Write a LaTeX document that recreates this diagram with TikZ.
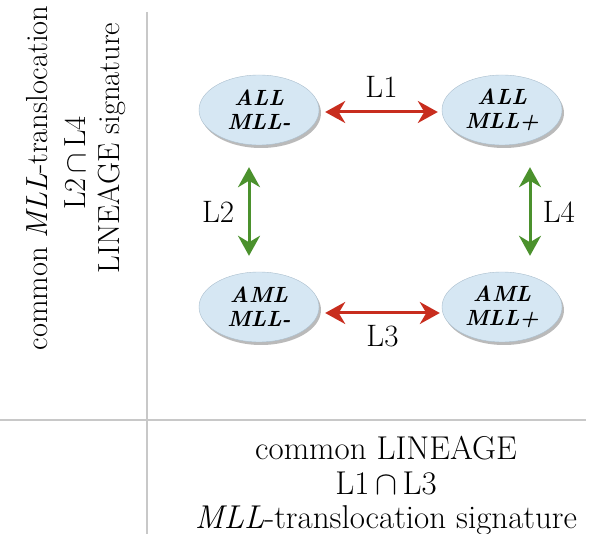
\RequirePackage{fix-cm}
\documentclass[tikz,border=0pt]{standalone}
\usepackage{amsmath, amssymb}
\usepackage{fontspec}
\usepackage{xcolor}
\usetikzlibrary{arrows.meta, positioning, shadows, shapes.geometric}
\definecolor{cellblue}{RGB}{214, 231, 243}
\definecolor{cellrim}{RGB}{170, 190, 205}
\definecolor{linkred}{RGB}{200, 45, 30}
\definecolor{linkgreen}{RGB}{75, 145, 45}
\definecolor{rulegray}{RGB}{200, 200, 200}

\tikzset{
  cell/.style={ellipse, minimum width=120pt, minimum height=70pt, inner sep=0pt,
    fill=cellblue, draw=cellrim, line width=0.4pt,
    drop shadow={shadow xshift=2pt, shadow yshift=-3pt, fill=black!45, opacity=0.6},
    font=\fontsize{22}{24}\selectfont\bfseries\itshape, align=center},
  redlink/.style={{Stealth[length=20pt,width=22pt]}-{Stealth[length=20pt,width=22pt]},
    line width=3pt, linkred},
  greenlink/.style={{Stealth[length=20pt,width=22pt]}-{Stealth[length=20pt,width=22pt]},
    line width=3pt, linkgreen},
  lab/.style={font=\fontsize{31}{32}\selectfont},
  sidetext/.style={font=\fontsize{30.5}{32}\selectfont, rotate=90},
  foottext/.style={font=\fontsize{33}{34.5}\selectfont, align=center}
}

\begin{document}
\begin{tikzpicture}[x=1pt, y=-1pt]
  \useasboundingbox (0,0) rectangle (597,534);

  % frame lines
  \draw[rulegray, line width=1.2pt] (147,12) -- (147,534);
  \draw[rulegray, line width=1.2pt] (0,420) -- (586,420);

  % the four groups
  \node[cell] (allneg) at (259,110) {ALL\\MLL-};
  \node[cell] (allpos) at (502,110) {ALL\\MLL+};
  \node[cell] (amlneg) at (259,307) {AML\\MLL-};
  \node[cell] (amlpos) at (502,307) {AML\\MLL+};

  % links between groups
  \draw[redlink] ([xshift=6pt,yshift=-2pt]allneg.east) -- ([xshift=-4pt,yshift=-2pt]allpos.west)
    node[midway, above=10pt, lab, black] (lone) {L1};
  \draw[redlink] ([xshift=6pt,yshift=-6pt]amlneg.east) -- ([xshift=-2pt,yshift=-6pt]amlpos.west)
    node[midway, below=7pt, lab, black] (lthree) {L3};
  \draw[greenlink] ([xshift=-10pt,yshift=-22pt]allneg.south) -- ([xshift=-10pt,yshift=16pt]amlneg.north)
    node[midway, left=10pt, lab, black] (ltwo) {L2};
  \draw[greenlink] ([xshift=28pt,yshift=-22pt]allpos.south) -- ([xshift=28pt,yshift=16pt]amlpos.north)
    node[midway, right=8pt, lab, black] (lfour) {L4};

  % signatures
  \node[sidetext] (rowsiga) at (37,178) {common \textit{MLL}-translocation};
  \node[sidetext] (rowsigb) at (75,163) {L2\,$\cap$\,L4};
  \node[sidetext] (rowsigc) at (112,148) {LINEAGE signature};
  \node[foottext] (colsig) at (386,486)
    {common LINEAGE\\L1\,$\cap$\,L3\\\textit{MLL}-translocation signature};
\end{tikzpicture}
\end{document}
